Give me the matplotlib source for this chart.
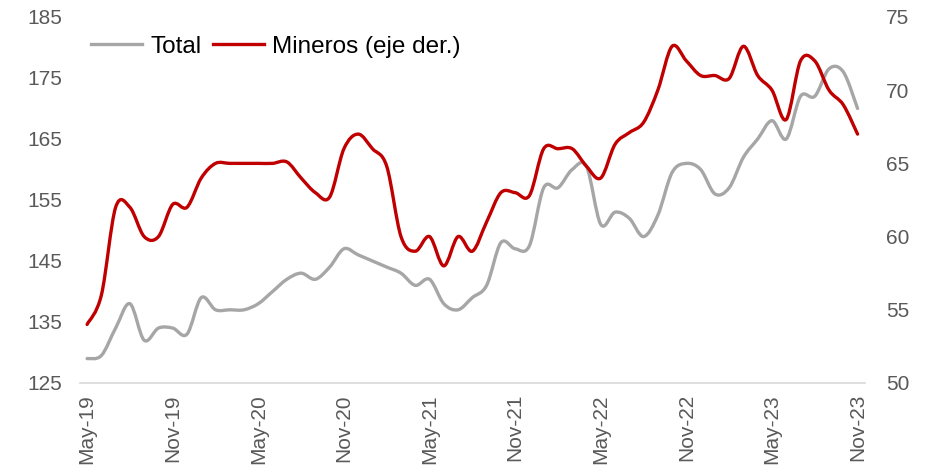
import numpy as np
import matplotlib
matplotlib.use("Agg")
import matplotlib.pyplot as plt
from matplotlib.path import Path
from matplotlib.patches import PathPatch
from matplotlib.lines import Line2D

plt.rcParams['font.family'] = ['Liberation Sans', 'DejaVu Sans']

# monthly values, May-19 .. Nov-23
total = [129, 129.5, 134, 138, 132, 134, 134, 133, 139, 137,
         137, 137, 138, 140, 142, 143, 142, 144, 147, 146,
         145, 144, 143, 141, 142, 138, 137, 139, 141, 148,
         147, 147.5, 157, 157, 160, 160.5, 151, 153, 152, 149,
         152.5, 159.5, 161, 160, 156, 157, 162, 165, 168, 165,
         172, 172, 176.5, 176, 170]
mineros = [54, 56, 62, 62, 60, 60, 62.2, 62, 64, 65,
           65, 65, 65, 65, 65.1, 64, 63, 62.7, 66, 67,
           66, 64.8, 60, 59, 60, 58, 60, 59, 61, 63,
           63, 62.8, 66, 66, 66, 64.8, 64, 66.3, 67.1, 67.8,
           70, 73, 72, 71, 71, 70.8, 73, 71, 70, 68,
           72, 72, 70, 69, 67]
tick_labels = ['May-19', 'Nov-19', 'May-20', 'Nov-20', 'May-21',
               'Nov-21', 'May-22', 'Nov-22', 'May-23', 'Nov-23']

GRAY = '#A6A6A6'
RED = '#C00000'
TXT = '#595959'


def smooth_path(x, y):
    # Excel-style smoothed line drawn as cubic Bezier segments
    n = len(x)
    verts = [(x[0], y[0])]
    codes = [Path.MOVETO]
    for i in range(n - 1):
        x0, y0 = (x[i - 1], y[i - 1]) if i > 0 else (x[i], y[i])
        x3, y3 = (x[i + 2], y[i + 2]) if i + 2 < n else (x[i + 1], y[i + 1])
        c1 = (x[i] + (x[i + 1] - x0) / 6, y[i] + (y[i + 1] - y0) / 6)
        c2 = (x[i + 1] - (x3 - x[i]) / 6, y[i + 1] - (y3 - y[i]) / 6)
        verts += [c1, c2, (x[i + 1], y[i + 1])]
        codes += [Path.CURVE4] * 3
    return Path(verts, codes)


fig = plt.figure(figsize=(9.32, 4.69), dpi=100)
ax = fig.add_axes([0.0858, 0.1834, 0.842, 0.7804])
ax2 = ax.twinx()

xs = np.arange(len(total))
ax.add_patch(PathPatch(smooth_path(xs, total), fill=False, edgecolor=GRAY,
                       lw=2.4, capstyle='round', joinstyle='round'))
ax2.add_patch(PathPatch(smooth_path(xs, mineros), fill=False, edgecolor=RED,
                        lw=2.4, capstyle='round', joinstyle='round'))

ax.set_xlim(-0.5, len(total) - 0.5)
ax.set_ylim(125, 185)
ax2.set_ylim(50, 75)
ax.set_yticks(range(125, 186, 10))
ax2.set_yticks(range(50, 76, 5))
ax.set_xticks(range(0, len(total), 6))
ax.set_xticklabels(tick_labels, rotation=90)

for a in (ax, ax2):
    for s in a.spines.values():
        s.set_visible(False)
    a.tick_params(length=0, labelsize=15, colors=TXT)
ax.spines['bottom'].set_visible(True)
ax.spines['bottom'].set_color('#D9D9D9')
ax.spines['bottom'].set_linewidth(1.2)
ax.tick_params(axis='y', pad=13)
ax.tick_params(axis='x', pad=8)
ax2.tick_params(axis='y', pad=15.5)

handles = [Line2D([], [], color=GRAY, lw=2.4), Line2D([], [], color=RED, lw=2.4)]
ax.legend(handles, ['Total', 'Mineros (eje der.)'], loc='upper left',
          bbox_to_anchor=(0.002, 0.975), ncol=2, frameon=False, fontsize=17.5,
          handlelength=2.1, handletextpad=0.35, columnspacing=0.45, borderaxespad=0)

fig.savefig('out.png', dpi=100)
